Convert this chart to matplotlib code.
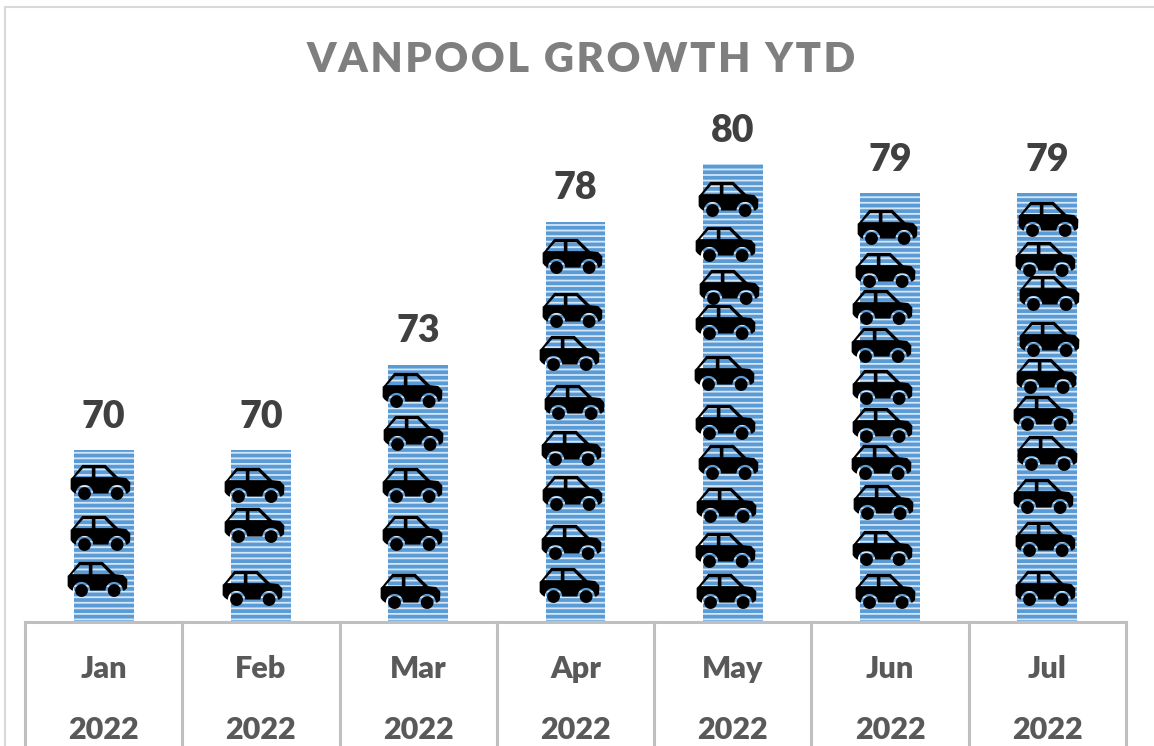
import numpy as np
import matplotlib
matplotlib.use("Agg")
import matplotlib.pyplot as plt
from matplotlib.lines import Line2D
from matplotlib.path import Path

months = ['Jan', 'Feb', 'Mar', 'Apr', 'May', 'Jun', 'Jul']
years = ['2022'] * 7
riders = [70, 70, 73, 78, 80, 79, 79]

# where the car icons sit in each bar
car_y = [
    [68.9, 67.1, 65.5],
    [68.8, 67.4, 65.2],
    [72.1, 70.6, 68.8, 67.1, 65.1],
    [76.8, 74.9, 73.4, 71.7, 70.1, 68.5, 66.8, 65.3],
    [78.8, 77.2, 75.7, 74.5, 72.7, 71.0, 69.6, 68.1, 66.5, 65.1],
    [77.8, 76.3, 75.0, 73.7, 72.2, 70.9, 69.6, 68.2, 66.6, 65.1],
    [78.1, 76.7, 75.5, 73.9, 72.6, 71.3, 69.9, 68.4, 66.9, 65.2],
]
car_shift = [
    [-.025, -.025, -.04],
    [-.045, -.045, -.057],
    [-.04, -.03, -.04, -.04, -.05],
    [-.02, -.02, -.04, -.01, -.03, -.02, -.03, -.04],
    [-.03, -.05, -.025, -.05, -.057, -.05, -.03, -.045, -.05, -.045],
    [-.02, -.03, -.05, -.057, -.05, -.05, -.057, -.045, -.05, -.03],
    [.006, -.013, .013, .013, -.006, -.025, 0, -.025, -.013, -.013],
]

plt.rcParams['font.family'] = ['Lato', 'DejaVu Sans']
plt.rcParams['hatch.linewidth'] = 1.3

W, H = 1154, 746
BASE = 622
TOP = 100


def arc(cx, cy, r, a0, a1, n=24):
    t = np.radians(np.linspace(a0, a1, n))
    return np.column_stack([cx + r * np.cos(t), cy + r * np.sin(t)])


def poly(points):
    pts = np.asarray(points, dtype=float)
    verts = np.vstack([pts, pts[0]])
    codes = [Path.MOVETO] + [Path.LINETO] * (len(pts) - 1) + [Path.CLOSEPOLY]
    return Path(verts, codes)


def car_marker():
    wx0, wx1, wy = -0.535, 0.557, -0.37
    body = np.vstack([
        [[0.99, -0.29], [0.90, -0.37], [0.86, -0.37]],
        arc(wx1, wy, 0.29, 0, 180),
        [[0.27, -0.37], [-0.25, -0.37]],
        arc(wx0, wy, 0.29, 0, 180),
        [[-0.85, -0.37], [-0.94, -0.30], [-1.0, -0.22], [-1.0, 0.12],
         [-0.92, 0.20], [-0.61, 0.59], [0.17, 0.59], [0.59, 0.18],
         [0.86, 0.15], [1.0, 0.0]],
    ])
    parts = [poly(body)]
    # windows go the other way round so they come out as holes
    parts.append(poly([[-0.85, 0.18], [-0.29, 0.18], [-0.29, 0.48], [-0.58, 0.48]]))
    parts.append(poly([[-0.17, 0.18], [0.43, 0.18], [0.13, 0.48], [-0.17, 0.48]]))
    parts.append(poly(arc(wx0, wy, 0.215, 0, 360)[:-1]))
    parts.append(poly(arc(wx1, wy, 0.215, 0, 360)[:-1]))
    return Path.make_compound_path(*parts)


car = car_marker()

fig = plt.figure(figsize=(W / 100, H / 100), dpi=100)
ax = fig.add_axes([25 / W, (H - BASE) / H, 1101 / W, (BASE - TOP) / H])
ax.set_xlim(-0.5, 6.5)
ax.set_ylim(64, 64 + (BASE - TOP) / 28.6)
ax.axis('off')

x = np.arange(len(months))
ax.bar(x, riders, bottom=0, width=0.38, color='#5b9bd5', edgecolor='#d5e6f6',
       linewidth=0, hatch='---', zorder=1)

for i, ys in enumerate(car_y):
    ax.plot(x[i] + np.array(car_shift[i]), ys, ls='none', marker=car, ms=43,
            mfc='black', mew=0, zorder=3)

for i, v in enumerate(riders):
    ax.annotate(str(v), (x[i], v), xytext=(0, 24), textcoords='offset points',
                ha='center', va='center', fontsize=27, fontweight='heavy',
                color='#404040')

# category table under the bars
grey = '#bfbfbf'
trans = ax.get_xaxis_transform()
ax.plot([-0.5, 6.5], [0, 0], color=grey, lw=2.2, transform=trans, clip_on=False, zorder=4)
for e in np.arange(-0.5, 7):
    ax.plot([e, e], [0, -(H - BASE) / (BASE - TOP)], color=grey, lw=2.2,
            transform=trans, clip_on=False, zorder=4)
for i in x:
    ax.text(i, -(669 - BASE) / (BASE - TOP), months[i], transform=trans, ha='center',
            va='center', fontsize=22, fontweight='heavy', color='#595959')
    ax.text(i, -(730 - BASE) / (BASE - TOP), years[i], transform=trans, ha='center',
            va='center', fontsize=22, fontweight='heavy', color='#595959')

# hair spaces give the wide letter spacing of the original title
title = '\u200a'.join('VANPOOL GROWTH YTD')
fig.text(581 / W, 1 - 60 / H, title, ha='center', va='center',
         fontsize=30, fontweight='heavy', color='#7f7f7f')

# chart frame
fig.add_artist(Line2D([5 / W, 5 / W], [0, 1 - 7 / H], color='#d9d9d9', lw=1.5))
fig.add_artist(Line2D([5 / W, 1], [1 - 7 / H, 1 - 7 / H], color='#d9d9d9', lw=1.5))

fig.savefig('out.png', dpi=100)
